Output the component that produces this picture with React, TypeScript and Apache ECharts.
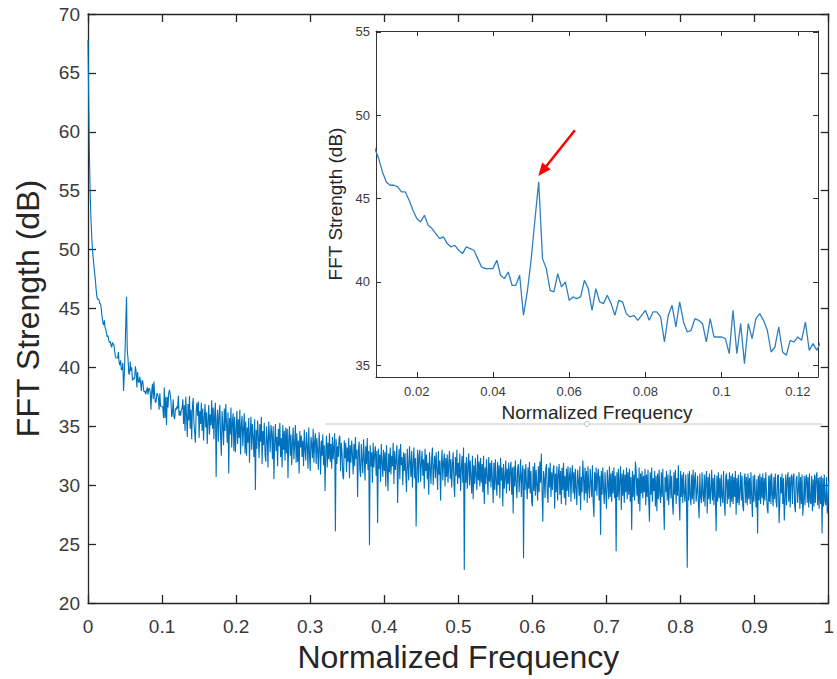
import React, { useEffect, useRef } from "react";
import * as echarts from "echarts";

// Frequency grid step of the spectrum (normalized frequency)
const freqStep = 0.001;

// FFT strength (dB), one value per frequency bin
const fftStrengthDb = [
  // k 0-9
  67.8, 62.5, 57.8, 54.6, 52.6, 51.1, 50.1, 49.3, 48.6, 48.0,
  // k 10-49
  47.4, 46.6, 46.0, 45.8, 45.8, 45.7, 45.4, 45.4, 44.9, 44.3,
  43.8, 43.6, 44.0, 43.4, 43.2, 42.9, 42.6, 42.7, 42.3, 42.1,
  42.2, 41.9, 41.7, 42.1, 42.0, 41.9, 41.4, 40.9, 40.8, 40.8,
  40.8, 41.3, 40.4, 40.2, 40.6, 39.8, 39.8, 40.4, 38.0, 39.4,
  // k 50-89
  41.3, 43.7, 46.0, 41.4, 40.8, 39.5, 39.4, 40.5, 39.7, 40.0,
  38.9, 39.1, 39.0, 39.1, 40.1, 39.6, 38.3, 39.6, 38.8, 38.7,
  39.2, 38.7, 38.0, 38.9, 38.8, 38.1, 37.9, 38.0, 37.7, 38.0,
  38.3, 37.7, 38.2, 38.2, 37.9, 36.4, 38.0, 38.6, 37.3, 38.8,
  // k 90-127
  37.6, 37.0, 37.1, 37.8, 37.7, 37.5, 36.4, 37.8, 36.7, 36.7,
  36.7, 36.6, 35.7, 38.3, 35.7, 37.5, 35.1, 37.5, 36.6, 37.8,
  38.1, 37.7, 37.1, 35.8, 36.1, 37.3, 35.8, 35.6, 36.5, 36.4,
  36.7, 36.5, 37.6, 35.9, 36.3, 35.9, 36.4, 36.5,
  // k 128-327
  37.3, 35.2, 36.8, 34.6, 37.5, 35.9, 34.1, 36.9, 35.5, 37.6, 34.8, 36.4, 33.9, 36.7, 37.4, 35.3, 34.5, 33.6, 36.2, 37.0,
  35.9, 37.1, 34.0, 36.3, 35.2, 37.0, 34.6, 36.5, 33.8, 35.7, 36.9, 34.9, 36.2, 33.5, 35.4, 36.8, 34.3, 36.0, 35.1, 37.2,
  34.8, 36.6, 33.9, 36.1, 37.0, 30.7, 35.5, 36.4, 33.7, 35.9, 36.8, 34.2, 32.5, 36.3, 35.0, 33.4, 36.5, 34.6, 36.9, 35.2,
  33.6, 36.2, 31.0, 35.7, 34.3, 36.6, 33.2, 35.4, 36.1, 32.9, 35.8, 32.8, 34.5, 36.3, 33.5, 35.6, 34.0, 36.4, 32.6, 35.1,
  35.9, 33.3, 34.8, 36.1, 32.7, 35.4, 32.5, 34.9, 33.6, 35.7, 31.9, 34.4, 35.8, 33.0, 35.2, 34.1, 32.4, 35.6, 29.6, 34.7,
  33.1, 35.5, 34.0, 32.3, 35.2, 33.7, 35.8, 31.8, 34.6, 33.4, 35.3, 32.6, 32.0, 35.0, 33.9, 31.5, 35.4, 34.2, 32.8, 35.1,
  34.5, 32.2, 35.0, 30.5, 33.6, 35.2, 32.9, 34.1, 31.6, 34.8, 33.3, 35.3, 32.4, 34.0, 31.5, 35.1, 33.0, 34.6, 32.1, 34.9,
  32.7, 34.8, 30.6, 33.9, 35.0, 32.5, 34.3, 31.7, 33.6, 34.9, 32.2, 33.5, 35.1, 31.9, 34.4, 32.0, 33.8, 31.0, 34.6, 33.2,
  34.2, 32.4, 33.8, 31.6, 34.7, 33.0, 32.1, 34.5, 33.3, 31.4, 34.9, 32.7, 31.2, 34.1, 33.5, 32.3, 34.8, 31.9, 33.7, 34.4,
  31.8, 34.0, 32.9, 31.3, 34.5, 33.2, 30.9, 33.8, 32.5, 34.3, 31.7, 33.4, 29.5, 32.8, 34.2, 31.5, 33.6, 32.2, 34.4, 32.0,
  // k 328-527
  33.5, 31.4, 34.1, 32.2, 33.2, 34.4, 26.1, 33.9, 31.8, 33.3, 32.4, 34.0, 34.2, 31.2, 33.6, 32.7, 30.8, 30.5, 33.8, 32.3,
  33.6, 31.1, 33.2, 32.0, 34.0, 30.6, 33.4, 31.9, 33.8, 32.6, 30.9, 33.5, 31.6, 34.1, 32.2, 33.0, 29.0, 32.9, 33.7, 31.3,
  30.7, 33.5, 32.1, 31.0, 33.9, 32.4, 30.4, 33.3, 31.8, 34.0, 31.3, 32.9, 24.9, 33.4, 31.6, 32.8, 30.2, 33.6, 31.5, 32.7,
  33.3, 30.8, 32.9, 26.8, 33.1, 31.4, 32.6, 30.3, 33.5, 31.9, 30.7, 33.0, 31.2, 32.8, 29.9, 33.4, 31.5, 29.5, 32.7, 31.1,
  33.2, 30.9, 32.5, 31.6, 33.6, 30.1, 32.9, 31.3, 32.2, 33.4, 28.5, 31.8, 33.1, 30.5, 33.5, 31.7, 32.4, 30.0, 32.8, 31.2,
  32.7, 31.0, 29.4, 33.1, 31.6, 30.4, 33.3, 32.0, 30.7, 32.9, 29.8, 31.9, 33.2, 30.6, 32.3, 26.5, 31.4, 33.0, 30.2, 32.5,
  33.0, 30.3, 31.8, 32.9, 30.8, 32.2, 29.7, 33.1, 31.2, 32.6, 30.5, 31.9, 29.2, 32.8, 31.5, 30.1, 32.4, 33.2, 30.0, 31.6,
  32.5, 30.6, 32.8, 31.3, 29.6, 32.9, 30.9, 32.1, 28.7, 31.7, 33.0, 30.4, 31.9, 32.7, 29.9, 32.3, 30.7, 32.6, 30.2, 31.8,
  32.9, 30.5, 32.2, 29.8, 31.6, 32.8, 30.3, 29.0, 32.4, 30.8, 33.0, 30.1, 31.9, 30.6, 32.7, 29.5, 31.4, 32.5, 30.2, 33.2,
  22.8, 31.9, 30.2, 32.4, 29.7, 31.6, 32.7, 30.0, 32.1, 30.6, 29.3, 32.5, 28.8, 31.7, 30.1, 32.3, 30.8, 29.6, 32.6, 30.4,
  // k 528-727
  32.0, 29.9, 32.3, 30.2, 31.8, 29.4, 32.5, 28.4, 31.5, 30.1, 32.2, 30.7, 29.2, 32.4, 30.3, 31.9, 29.8, 32.1, 30.5, 28.5,
  31.9, 29.6, 32.2, 30.3, 29.1, 32.0, 30.0, 31.7, 28.9, 32.3, 30.4, 31.5, 28.2, 31.8, 29.7, 30.6, 32.1, 29.3, 31.4, 30.1,
  31.9, 29.5, 31.3, 32.0, 29.2, 31.5, 27.6, 31.6, 29.9, 32.1, 30.2, 28.9, 31.4, 31.8, 29.4, 30.7, 32.2, 29.0, 30.9, 31.7,
  23.8, 31.4, 29.6, 31.8, 30.1, 28.8, 31.5, 29.7, 32.0, 29.3, 31.2, 28.6, 28.2, 31.6, 29.5, 31.9, 29.1, 31.3, 30.0, 28.7,
  31.6, 29.4, 32.0, 30.2, 32.7, 29.5, 26.9, 31.2, 30.6, 28.9, 31.4, 31.8, 29.3, 28.5, 31.5, 29.8, 31.9, 29.0, 31.1, 29.6,
  31.3, 31.7, 28.0, 31.0, 29.4, 31.6, 28.7, 30.9, 31.8, 29.2, 31.2, 28.4, 31.5, 29.6, 31.9, 28.9, 30.8, 28.3, 31.4, 29.5,
  31.6, 29.0, 30.8, 31.5, 28.6, 30.9, 31.7, 29.3, 31.1, 28.8, 31.4, 29.7, 28.3, 31.3, 30.4, 29.1, 31.6, 27.9, 30.7, 29.4,
  32.1, 30.6, 28.7, 31.5, 29.3, 31.2, 28.5, 31.6, 29.8, 28.9, 31.4, 30.3, 29.0, 31.7, 28.6, 27.3, 31.1, 29.5, 31.5, 29.1,
  30.9, 31.4, 28.7, 30.8, 25.8, 31.2, 29.2, 31.5, 29.6, 28.4, 31.1, 29.4, 28.0, 31.3, 30.2, 28.8, 31.6, 29.0, 31.0, 28.6,
  31.2, 29.3, 31.5, 28.9, 30.8, 24.4, 31.1, 29.0, 31.4, 28.7, 30.5, 31.6, 27.9, 31.0, 29.1, 31.3, 28.5, 30.9, 29.4, 31.5,
  // k 728-927
  28.8, 31.1, 29.2, 31.4, 28.6, 30.7, 26.2, 31.2, 29.0, 30.9, 28.7, 32.0, 31.3, 29.1, 30.6, 28.4, 31.5, 27.8, 31.0, 29.3,
  31.2, 28.9, 30.8, 29.4, 31.4, 28.3, 30.9, 29.0, 31.3, 28.7, 26.9, 31.1, 29.2, 31.5, 28.6, 30.6, 29.5, 31.2, 28.2, 30.8,
  27.8, 31.0, 28.8, 31.3, 29.3, 28.5, 31.1, 29.0, 31.4, 28.6, 26.2, 30.7, 29.4, 31.2, 28.7, 30.9, 28.3, 29.8, 31.3, 28.9,
  30.8, 28.6, 27.5, 31.1, 29.2, 31.3, 28.4, 30.6, 29.1, 31.7, 28.8, 27.0, 31.2, 29.0, 30.9, 28.5, 31.1, 29.3, 28.6, 30.9,
  28.9, 23.0, 31.0, 28.7, 31.2, 29.1, 28.3, 30.9, 28.8, 31.3, 28.4, 30.6, 31.1, 28.6, 29.4, 30.8, 28.5, 27.2, 31.0, 29.0,
  28.5, 31.1, 29.2, 28.6, 30.9, 28.2, 30.5, 31.2, 27.6, 30.7, 28.8, 31.0, 28.4, 29.6, 31.3, 28.7, 30.6, 28.3, 30.9, 29.0,
  26.1, 30.8, 28.6, 31.1, 28.9, 30.6, 28.2, 30.9, 29.0, 28.5, 31.2, 28.7, 27.4, 30.7, 31.0, 28.4, 30.5, 28.8, 31.1, 28.1,
  30.8, 28.6, 31.0, 28.4, 30.7, 29.0, 31.2, 27.5, 30.6, 28.5, 30.9, 28.3, 29.6, 31.1, 28.7, 30.8, 28.2, 27.8, 30.6, 31.0,
  28.5, 30.7, 28.3, 31.0, 28.8, 30.6, 28.4, 31.1, 28.9, 27.3, 30.8, 28.6, 30.9, 29.2, 28.1, 30.5, 25.9, 30.8, 28.7, 31.0,
  28.4, 30.7, 28.9, 31.0, 28.3, 30.6, 28.7, 31.1, 29.4, 28.0, 27.6, 30.8, 28.6, 30.9, 28.4, 31.0, 29.2, 28.2, 30.7, 28.8,
  // k 928-1000
  31.0, 28.6, 28.1, 30.8, 30.9, 26.8, 28.5, 30.7, 29.3, 31.0, 28.4, 30.6, 27.0, 28.7, 30.9, 28.3, 30.5, 31.1, 28.6, 30.7,
  28.1, 30.6, 30.9, 28.4, 30.7, 31.0, 28.3, 27.7, 30.5, 30.8, 28.5, 29.6, 31.1, 28.0, 30.7, 28.4, 30.9, 27.4, 28.6, 30.8,
  28.3, 30.6, 30.9, 28.5, 30.7, 28.1, 31.0, 28.6, 28.4, 30.8, 27.8, 30.5, 28.2, 30.9, 28.5, 30.7, 31.1, 28.3, 30.6, 28.0,
  30.7, 28.4, 30.8, 25.9, 30.6, 28.2, 30.9, 28.6, 28.3, 30.7, 27.6, 28.5, 30.4,
];

// Axis ranges and tick values
const mainXRange = [0, 1];
const mainYRange = [20, 70];
const mainXInterval = 0.1;
const mainYInterval = 5;
const insetXRange = [0.0093, 0.1253];
const insetYRange = [34.3, 55.05];
const insetXTicks = [0.02, 0.04, 0.06, 0.08, 0.1, 0.12];
const insetYTicks = [35, 40, 45, 50, 55];

// Arrow annotation in inset data coordinates: tail and tip
const arrowTail = [0.0615, 49.1];
const arrowTip = [0.0519, 46.35];

const FONT = "'Liberation Sans', Arial, Helvetica, sans-serif";
const AXIS_COLOR = "#262626";
const LABEL_COLOR = "#3a3a3a";
const LINE_COLOR = "#0072BD";

const fmt = (v: number) => String(parseFloat(Number(v).toFixed(4)));

export default function App() {
  const ref = useRef<HTMLDivElement>(null);

  useEffect(() => {
    if (!ref.current) return;
    const chart = echarts.init(ref.current, undefined, { renderer: "svg" });

    const data = fftStrengthDb.map((v, i) => [i * freqStep, v]);

    const mainAxisCommon = {
      type: "value" as const,
      gridIndex: 0,
      axisLine: { show: true, onZero: false, lineStyle: { color: AXIS_COLOR, width: 1.3 } },
      axisTick: { show: true, inside: true, length: 8, lineStyle: { color: AXIS_COLOR, width: 1.3 } },
      splitLine: { show: false },
    };
    const insetAxisCommon = {
      type: "value" as const,
      gridIndex: 1,
      z: 10,
      axisLine: { show: true, onZero: false, lineStyle: { color: "#333", width: 1 } },
      axisTick: { show: true, inside: true, length: 5, lineStyle: { color: "#333", width: 1 } },
      splitLine: { show: false },
    };

    chart.setOption({
      animation: false,
      backgroundColor: "#ffffff",
      grid: [
        { left: 88, top: 14, width: 746, height: 589, containLabel: false },
        { left: 376, top: 31, width: 442, height: 346, containLabel: false, z: 10 },
      ],
      xAxis: [
        {
          ...mainAxisCommon,
          position: "bottom",
          min: mainXRange[0],
          max: mainXRange[1],
          interval: mainXInterval,
          axisLabel: { show: true, margin: 14, fontSize: 19, color: LABEL_COLOR, fontFamily: FONT, formatter: fmt },
          name: "Normalized Frequency",
          nameLocation: "middle",
          nameGap: 38,
          nameTextStyle: { fontSize: 32, color: "#262626", fontFamily: FONT },
        },
        {
          ...mainAxisCommon,
          position: "top",
          min: mainXRange[0],
          max: mainXRange[1],
          interval: mainXInterval,
          axisLabel: { show: false },
        },
        {
          ...insetAxisCommon,
          position: "bottom",
          min: insetXRange[0],
          max: insetXRange[1],
          axisTick: { ...insetAxisCommon.axisTick, customValues: insetXTicks },
          axisLabel: { show: true, margin: 8, fontSize: 13, color: LABEL_COLOR, fontFamily: FONT, customValues: insetXTicks, formatter: fmt },
          name: "Normalized Frequency",
          nameLocation: "middle",
          nameGap: 24,
          nameTextStyle: { fontSize: 19, color: "#262626", fontFamily: FONT },
        },
        {
          ...insetAxisCommon,
          position: "top",
          min: insetXRange[0],
          max: insetXRange[1],
          axisTick: { ...insetAxisCommon.axisTick, customValues: insetXTicks },
          axisLabel: { show: false },
        },
      ],
      yAxis: [
        {
          ...mainAxisCommon,
          position: "left",
          min: mainYRange[0],
          max: mainYRange[1],
          interval: mainYInterval,
          axisLabel: { show: true, margin: 8, fontSize: 19, color: LABEL_COLOR, fontFamily: FONT },
          name: "FFT Strength (dB)",
          nameLocation: "middle",
          nameGap: 44,
          nameTextStyle: { fontSize: 32, color: "#262626", fontFamily: FONT },
        },
        {
          ...mainAxisCommon,
          position: "right",
          min: mainYRange[0],
          max: mainYRange[1],
          interval: mainYInterval,
          axisLabel: { show: false },
        },
        {
          ...insetAxisCommon,
          position: "left",
          min: insetYRange[0],
          max: insetYRange[1],
          axisTick: { ...insetAxisCommon.axisTick, customValues: insetYTicks },
          axisLabel: { show: true, margin: 6, fontSize: 13, color: LABEL_COLOR, fontFamily: FONT, customValues: insetYTicks },
          name: "FFT Strength (dB)",
          nameLocation: "middle",
          nameGap: 26,
          nameTextStyle: { fontSize: 19, color: "#262626", fontFamily: FONT },
        },
        {
          ...insetAxisCommon,
          position: "right",
          min: insetYRange[0],
          max: insetYRange[1],
          axisTick: { ...insetAxisCommon.axisTick, customValues: insetYTicks },
          axisLabel: { show: false },
        },
      ],
      series: [
        {
          type: "line",
          xAxisIndex: 0,
          yAxisIndex: 0,
          data,
          showSymbol: false,
          clip: true,
          z: 2,
          lineStyle: { color: LINE_COLOR, width: 1.1 },
          silent: true,
        },
        {
          type: "line",
          xAxisIndex: 2,
          yAxisIndex: 2,
          data,
          showSymbol: false,
          clip: true,
          z: 11,
          lineStyle: { color: "#2f7fc1", width: 1.3 },
          silent: true,
        },
      ],
    });

    const tail = chart.convertToPixel({ seriesIndex: 1 }, arrowTail) as number[];
    const tip = chart.convertToPixel({ seriesIndex: 1 }, arrowTip) as number[];
    const dx = tip[0] - tail[0];
    const dy = tip[1] - tail[1];
    const len = Math.sqrt(dx * dx + dy * dy) || 1;
    const ux = dx / len;
    const uy = dy / len;
    const headLen = 13;
    const headHalf = 5.5;
    const bx = tip[0] - ux * headLen;
    const by = tip[1] - uy * headLen;
    const nx = -uy;
    const ny = ux;

    chart.setOption({
      graphic: [
        {
          id: "insetBottomLine",
          type: "line",
          z: 15,
          shape: { x1: 325, y1: 424, x2: 822, y2: 424 },
          style: { stroke: "#c6c6c6", lineWidth: 1 },
          silent: true,
        },
        {
          id: "insetHandle",
          type: "circle",
          z: 16,
          shape: { cx: 587, cy: 424, r: 2.5 },
          style: { fill: "#ffffff", stroke: "#bdbdbd", lineWidth: 1 },
          silent: true,
        },
        {
          id: "arrowShaft",
          type: "line",
          z: 20,
          shape: { x1: tail[0], y1: tail[1], x2: bx, y2: by },
          style: { stroke: "#ff0000", lineWidth: 2.5 },
          silent: true,
        },
        {
          id: "arrowHead",
          type: "polygon",
          z: 20,
          shape: {
            points: [
              [tip[0], tip[1]],
              [bx + nx * headHalf, by + ny * headHalf],
              [bx - nx * headHalf, by - ny * headHalf],
            ],
          },
          style: { fill: "#ff0000" },
          silent: true,
        },
      ],
    });

    return () => {
      chart.dispose();
    };
  }, []);

  return (
    <div
      ref={ref}
      style={{ position: "fixed", left: 0, top: 0, width: 837, height: 679, background: "#fff" }}
    />
  );
}
